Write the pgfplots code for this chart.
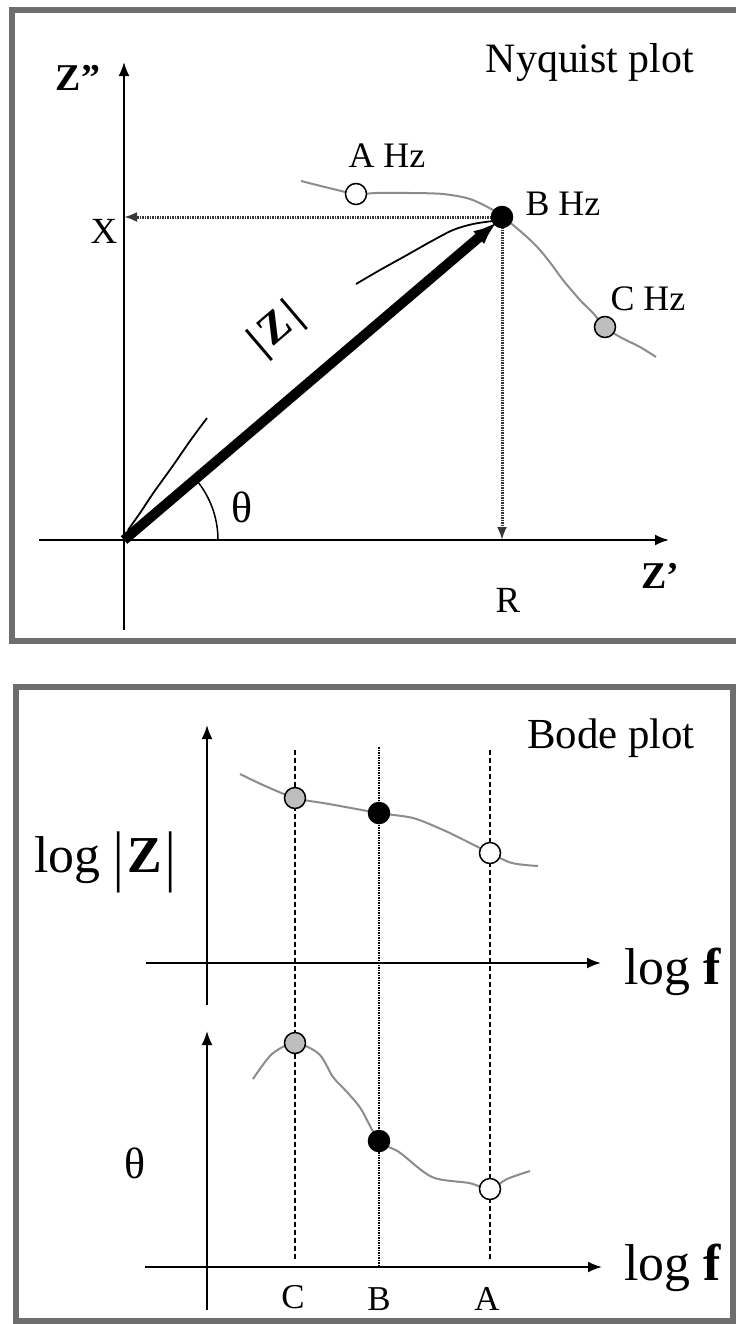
\documentclass[border=0pt]{standalone}
\usepackage{fontspec}
\setmainfont{Liberation Serif}
\usepackage{graphicx}
\usepackage{pgfplots}
\pgfplotsset{compat=1.18}
\usetikzlibrary{arrows.meta}

\definecolor{frame}{RGB}{110,110,110}
\definecolor{trace}{RGB}{140,140,140}
\definecolor{markC}{RGB}{190,190,190}
\definecolor{guide}{RGB}{55,55,55}

\newcommand\fs[1]{\fontsize{#1}{#1}\selectfont}
% a taller vertical bar for the modulus signs
\newcommand\mbar{\raisebox{-0.12em}{\scalebox{1}[1.3]{|}}}

\pgfplotsset{
  diagram/.style={
    x=1bp, y=1bp, axis lines=middle, xtick=\empty, ytick=\empty,
    clip=false, anchor=south west,
    axis line style={line width=2bp, black},
    every inner x axis line/.append style={-{Latex[length=14bp,width=11bp]}},
    every inner y axis line/.append style={-{Latex[length=14bp,width=11bp]}},
  },
  response/.style={trace, line width=2bp, smooth, tension=0.5, no markers},
  freq/.style={only marks, mark=*, mark size=10.5bp,
    mark options={line width=1.5bp, draw=black, fill=#1}},
}

% Nyquist response (Z', Z'')
\pgfplotstableread{
x y
177 359
205 352
232 346
252 347
286 347
319 346
346 341
369 330
378 323
389 315
403 303
416 290
428 275
439 260
456 240
469 227
481 213
496 203
516 193
532 183
}\nyquist

% Bode magnitude, log|Z| against log f
\pgfplotstableread{
x y
33 189
56 178
88 165
122 159
172 150
206 145
234 134
253 125
283 110
305 100
331 97
}\bodemag

% Bode phase, theta against log f
\pgfplotstableread{
x y
46 188
65 213
88 224
112 213
126 190
140 175
154 158
172 126
192 115
225 90
262 84
283 78
300 88
323 96
}\bodephase

\begin{document}
\begin{tikzpicture}
\useasboundingbox (0,0) rectangle (736bp,-1324bp);
\fill[white] (0,0) rectangle (736bp,-1324bp);
\draw[frame, line width=6bp] (12bp,-10bp) rectangle (745bp,-641bp);
\draw[frame, line width=6bp] (16bp,-687bp) rectangle (733bp,-1321bp);

% ---------------- Nyquist plot ----------------
\begin{axis}[diagram, at={(39bp,-630bp)},
  xmin=-85, xmax=545, ymin=-90, ymax=478]
  \addplot[guide, line width=3bp, dash pattern=on 1.5bp off 1bp,
    -{Latex[length=13bp,width=10bp]}] coordinates {(372,323) (0,323)};
  \addplot[guide, line width=3bp, dash pattern=on 1.5bp off 1bp,
    -{Latex[length=13bp,width=10bp]}] coordinates {(378,318) (378,0)};
  \addplot[black, line width=1.8bp, smooth] coordinates
    {(4,10) (16,27) (30,48) (48,73) (66,99) (83,122)};
  \addplot[black, line width=1.8bp, smooth] coordinates
    {(232,256) (256,270) (283,285) (306,298) (329,310) (349,316) (369,319)};
  \addplot[response] table {\nyquist};
  \addplot[black, line width=10bp, -{Latex[length=24bp,width=17bp]}]
    coordinates {(0,0) (373,318)};
  \draw[black, line width=1.5bp] (axis cs:94,0) arc[start angle=0, end angle=40.4, radius=94bp];
  \addplot[freq=white] coordinates {(232,346)};
  \addplot[freq=black] coordinates {(378,323)};
  \addplot[freq=markC] coordinates {(481,213)};

  \node[anchor=base, font=\fs{42}] at (axis cs:466,468) {Nyquist plot};
  \node[anchor=base, font=\fs{36}] at (axis cs:263,373) {A Hz};
  \node[anchor=base, font=\fs{36}] at (axis cs:439,325) {B Hz};
  \node[anchor=base, font=\fs{36}] at (axis cs:524,230) {C Hz};
  \node[anchor=base, font=\fs{37}] at (axis cs:-20,297) {X};
  \node[anchor=base, font=\fs{38}] at (axis cs:-46,450) {\textbf{Z”}};
  \node[anchor=base, font=\fs{38}] at (axis cs:536,-48) {\textbf{Z’}};
  \node[anchor=base, font=\fs{37}] at (axis cs:384,-72) {R};
  \node[anchor=base, font=\fs{44}] at (axis cs:118,18) {θ};
  \node[anchor=center, rotate=40.4, font=\fs{44}, inner sep=0pt] at (axis cs:153,210)
    {\textbf{|\kern4bp Z\kern4bp|}};
\end{axis}

% ---------------- Bode plot: magnitude ----------------
\begin{axis}[diagram, at={(146bp,-1005bp)},
  xmin=-61, xmax=394, ymin=-42, ymax=238]
  \addplot[black, line width=1.5bp, dash pattern=on 5bp off 3bp] coordinates {(88,213) (88,-297)};
  \addplot[black, line width=2bp, dash pattern=on 1.5bp off 1bp] coordinates {(172,216) (172,-304)};
  \addplot[black, line width=1.5bp, dash pattern=on 5bp off 3bp] coordinates {(283,213) (283,-297)};
  \addplot[response] table {\bodemag};
  \addplot[freq=markC] coordinates {(88,165)};
  \addplot[freq=black] coordinates {(172,150)};
  \addplot[freq=white] coordinates {(283,110)};

  \node[anchor=base, font=\fs{43}] at (axis cs:404,215) {Bode plot};
  \node[anchor=base, font=\fs{52}] at (axis cs:-102,91)
    {log \mbar\kern4bp\textbf{Z}\kern3bp\mbar};
  \node[anchor=base, font=\fs{52}] at (axis cs:466,-21) {log \textbf{f}};
\end{axis}

% ---------------- Bode plot: phase ----------------
\begin{axis}[diagram, at={(145bp,-1310bp)},
  xmin=-62, xmax=395, ymin=-43, ymax=236]
  \addplot[response] table {\bodephase};
  \addplot[freq=markC] coordinates {(88,224)};
  \addplot[freq=black] coordinates {(172,126)};
  \addplot[freq=white] coordinates {(283,78)};

  \node[anchor=base, font=\fs{52}] at (axis cs:466,-13) {log \textbf{f}};
  \node[anchor=base, font=\fs{44}] at (axis cs:-72,89) {θ};
  \node[anchor=base, font=\fs{35}] at (axis cs:86,-41) {C};
  \node[anchor=base, font=\fs{35}] at (axis cs:172,-43) {B};
  \node[anchor=base, font=\fs{35}] at (axis cs:280,-43) {A};
\end{axis}
\end{tikzpicture}
\end{document}
